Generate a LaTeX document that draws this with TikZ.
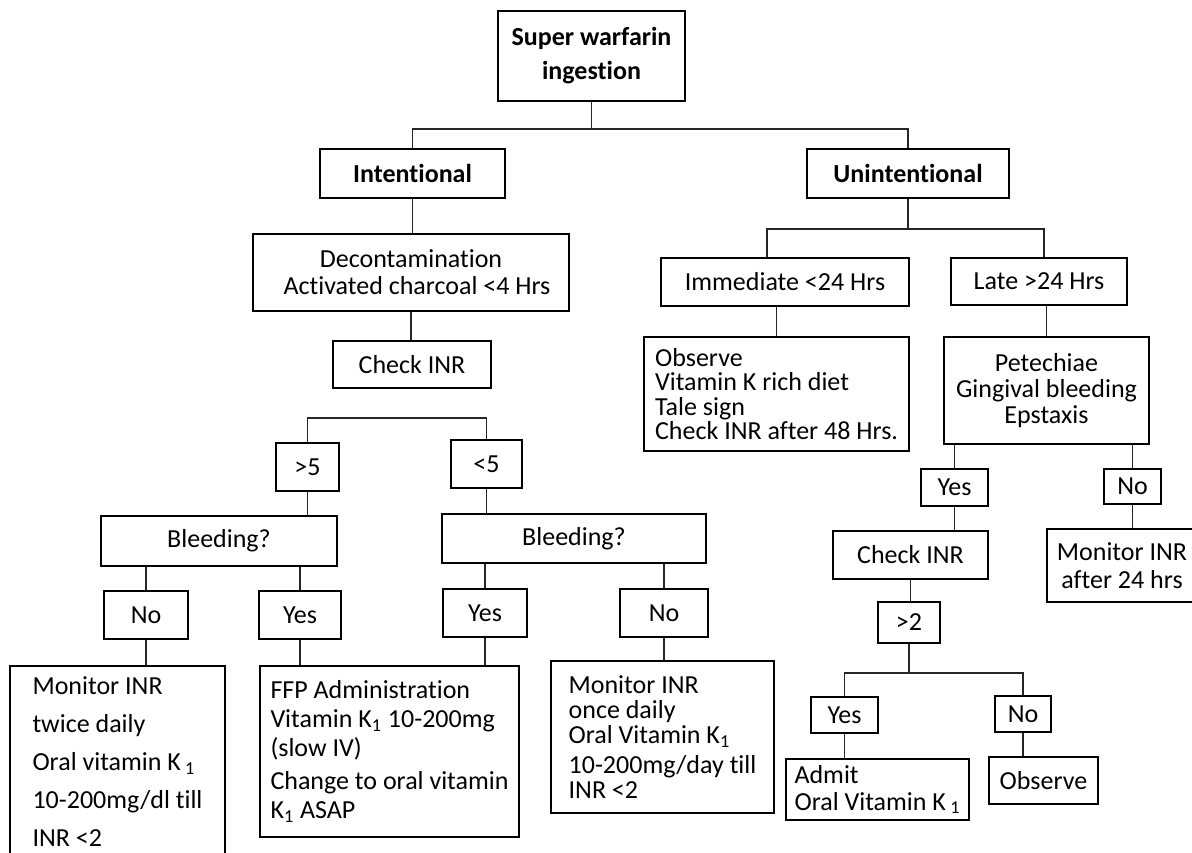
\documentclass[tikz,border=0pt]{standalone}
\usepackage{fontspec}
\setmainfont{Carlito}[Ligatures=NoCommon]
\usepackage{tikz}
\usetikzlibrary{positioning,calc}

\begin{document}
\begin{tikzpicture}[
  x=0.5pt, y=-0.5pt,
  box/.style={draw, line width=1pt, inner sep=0pt, align=center, font=\fontsize{13}{15}\selectfont},
  head/.style={box, font=\bfseries\fontsize{13}{17}\selectfont},
  lead/.style={font=\fontsize{13}{#1}\selectfont},
  link/.style={line width=0.6pt, black!85}
]
\useasboundingbox (0,0) rectangle (1192,852);

% root and first split
\node[head, minimum width=93.5pt, minimum height=45pt] (top) at (591.5,56) {Super warfarin\\ingestion};
\node[head, minimum width=92.5pt, minimum height=24.5pt] (intent) at (412.5,173.5) {Intentional};
\node[head, minimum width=101pt, minimum height=24.5pt] (unint) at (908,173.5) {Unintentional};

% intentional branch
\node[box, lead=13.5pt, minimum width=158pt, minimum height=38.5pt] (decont) at (411,272.5) {Decontamination\\\hspace*{6pt}Activated charcoal <4 Hrs};
\node[box, minimum width=79pt, minimum height=23.5pt] (chkL) at (412,364.5) {Check INR};
\node[box, minimum width=31.5pt, minimum height=24pt] (gt5) at (307.5,467) {>5};
\node[box, minimum width=35.5pt, minimum height=24pt] (lt5) at (486.5,464) {<5};
\node[box, minimum width=118pt, minimum height=25pt] (bleedL) at (219,541) {Bleeding?};
\node[box, minimum width=132pt, minimum height=24.5pt] (bleedR) at (574,538.5) {Bleeding?};
\node[box, minimum width=42pt, minimum height=24pt] (noL) at (146,615) {No};
\node[box, minimum width=41pt, minimum height=24pt] (yesL) at (300,615) {Yes};
\node[box, minimum width=42pt, minimum height=24pt] (yesM) at (485,613) {Yes};
\node[box, minimum width=44pt, minimum height=24pt] (noM) at (664,613) {No};
\node[box, lead=18.9pt, align=left, anchor=north, minimum width=107.5pt, inner ysep=5.5pt] (monL) at (117.5,665)
  {Monitor INR\\twice daily\\Oral vitamin K\,\textsubscript{1}\\10-200mg/dl till\\INR <2};
\node[box, lead=14.5pt, align=left, minimum width=129.5pt, minimum height=85.5pt] (ffp) at (389.5,751.5)
  {FFP Administration\\Vitamin K\textsubscript{1} 10-200mg\\(slow IV)\\[2pt]Change to oral vitamin\\K\textsubscript{1} ASAP};
\node[box, lead=12.5pt, align=left, minimum width=111.5pt, minimum height=76pt] (monM) at (662.5,737)
  {Monitor INR\\once daily\\Oral Vitamin K\textsubscript{1}\\[2.5pt]10-200mg/day till\\INR <2};

% unintentional branch
\node[box, minimum width=124pt, minimum height=24pt] (immed) at (785,282) {Immediate <24 Hrs};
\node[box, minimum width=88pt, minimum height=23.5pt] (late) at (1039,281.5) {Late >24 Hrs};
\node[box, lead=12.2pt, align=left, minimum width=132.5pt, minimum height=57pt] (obs) at (776.5,394)
  {Observe\\Vitamin K rich diet\\Tale sign\\Check INR after 48 Hrs.};
\node[box, lead=13pt, minimum width=102.5pt, minimum height=53.5pt] (pete) at (1046.5,390.5)
  {Petechiae\\Gingival bleeding\\Epstaxis};
\node[box, minimum width=33.5pt, minimum height=18.5pt] (yesR) at (954.5,487.5) {Yes};
\node[box, minimum width=28.5pt, minimum height=17.5pt] (noR) at (1132.5,486.5) {No};
\node[box, minimum width=77.5pt, minimum height=24pt] (chkR) at (910.5,555) {Check INR};
\node[box, lead=14pt, minimum width=75pt, minimum height=36.5pt] (mon24) at (1122,565.5) {Monitor INR\\after 24 hrs};
\node[box, minimum width=31pt, minimum height=20.5pt] (gt2) at (909,622.5) {>2};
\node[box, minimum width=33.5pt, minimum height=18pt] (yesB) at (844.5,715) {Yes};
\node[box, minimum width=28pt, minimum height=18pt] (noB) at (1023,714) {No};
\node[box, lead=13.5pt, align=left, minimum width=91.5pt, minimum height=30.5pt] (admit) at (877.5,789.5)
  {Admit\\Oral Vitamin K\,\textsubscript{1}};
\node[box, minimum width=54.5pt, minimum height=23.5pt] (obsB) at (1043.5,780.5) {Observe};

% connectors
\draw[link] (top.south) -- ++(0,27) -| (intent.north);
\draw[link] (top.south) -- ++(0,27) -| (unint.north);
\draw[link] (intent.south) -- (intent.south |- decont.north);
\draw[link] (decont.south) -- (decont.south |- chkL.north);
\draw[link] (gt5.north) -- ++(0,-24) -| (lt5.north);
\draw[link] (gt5.south) -- (gt5.south |- bleedL.north);
\draw[link] (lt5.south) -- (lt5.south |- bleedR.north);
\draw[link] (noL.north) -- (noL.north |- bleedL.south);
\draw[link] (yesL.north) -- (yesL.north |- bleedL.south);
\draw[link] (yesM.north) -- (yesM.north |- bleedR.south);
\draw[link] (noM.north) -- (noM.north |- bleedR.south);
\draw[link] (noL.south) -- (noL.south |- monL.north);
\draw[link] (yesL.south) -- (yesL.south |- ffp.north);
\draw[link] (yesM.south) -- (yesM.south |- ffp.north);
\draw[link] (noM.south) -- (noM.south |- monM.north);
\draw[link] (unint.south) -- ++(0,30) -| ([xshift=-9pt]immed.north);
\draw[link] (unint.south) -- ++(0,30) -| ([xshift=2.5pt]late.north);
\draw[link] (obs.north) -- (obs.north |- immed.south);
\draw[link] (pete.north) -- (pete.north |- late.south);
\draw[link] (yesR.north) -- (yesR.north |- pete.south);
\draw[link] (noR.north) -- (noR.north |- pete.south);
\draw[link] (yesR.south) -- (yesR.south |- chkR.north);
\draw[link] (noR.south) -- (noR.south |- mon24.north);
\draw[link] (chkR.south) -- (chkR.south |- gt2.north);
\draw[link] (gt2.south) -- ++(0,29) -| (yesB.north);
\draw[link] (gt2.south) -- ++(0,29) -| (noB.north);
\draw[link] (yesB.south) -- (yesB.south |- admit.north);
\draw[link] (noB.south) -- (noB.south |- obsB.north);
\end{tikzpicture}
\end{document}
